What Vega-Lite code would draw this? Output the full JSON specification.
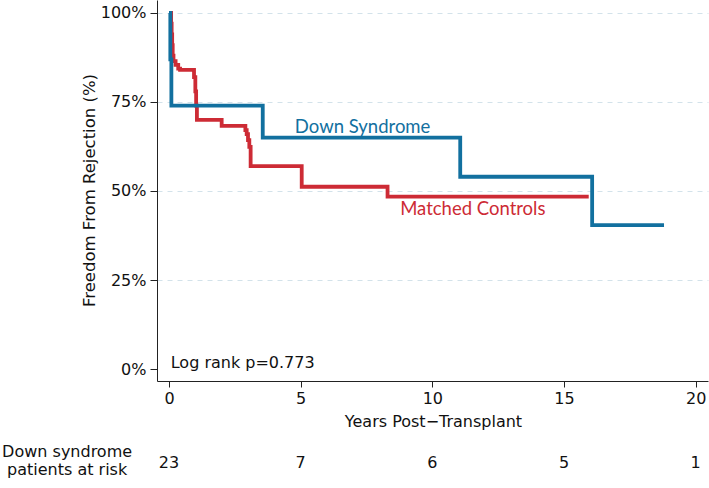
{
  "$schema": "https://vega.github.io/schema/vega-lite/v6.json",
  "width": 551,
  "height": 381,
  "autosize": "none",
  "padding": {"left": 157, "top": 0, "right": 1, "bottom": 107},
  "background": "white",
  "config": {
    "view": {"stroke": null},
    "font": "DejaVu Sans",
    "axis": {
      "domainColor": "#222222",
      "tickColor": "#222222",
      "labelColor": "#111111",
      "titleColor": "#111111",
      "labelFont": "DejaVu Sans",
      "titleFont": "DejaVu Sans",
      "labelFontSize": 16,
      "titleFontSize": 16,
      "titleFontWeight": "normal"
    }
  },
  "datasets": {
    "km": [
      {"group": "Matched Controls", "years": 0, "survival": 100},
      {"group": "Matched Controls", "years": 0.08, "survival": 97},
      {"group": "Matched Controls", "years": 0.1, "survival": 94},
      {"group": "Matched Controls", "years": 0.12, "survival": 91},
      {"group": "Matched Controls", "years": 0.14, "survival": 88},
      {"group": "Matched Controls", "years": 0.17, "survival": 86.5},
      {"group": "Matched Controls", "years": 0.25, "survival": 85.4},
      {"group": "Matched Controls", "years": 0.35, "survival": 84.4},
      {"group": "Matched Controls", "years": 0.42, "survival": 84},
      {"group": "Matched Controls", "years": 0.95, "survival": 82},
      {"group": "Matched Controls", "years": 1.0, "survival": 78},
      {"group": "Matched Controls", "years": 1.03, "survival": 74},
      {"group": "Matched Controls", "years": 1.06, "survival": 70},
      {"group": "Matched Controls", "years": 2.0, "survival": 68.3},
      {"group": "Matched Controls", "years": 2.9, "survival": 67.1},
      {"group": "Matched Controls", "years": 2.95, "survival": 66},
      {"group": "Matched Controls", "years": 3.0, "survival": 64.3},
      {"group": "Matched Controls", "years": 3.05, "survival": 62.4},
      {"group": "Matched Controls", "years": 3.1, "survival": 57},
      {"group": "Matched Controls", "years": 5.04, "survival": 51.2},
      {"group": "Matched Controls", "years": 8.3, "survival": 48.4},
      {"group": "Matched Controls", "years": 15.94, "survival": 48.4},
      {"group": "Down Syndrome", "years": 0, "survival": 100},
      {"group": "Down Syndrome", "years": 0.05, "survival": 87},
      {"group": "Down Syndrome", "years": 0.09, "survival": 74},
      {"group": "Down Syndrome", "years": 3.56, "survival": 65},
      {"group": "Down Syndrome", "years": 11.06, "survival": 54},
      {"group": "Down Syndrome", "years": 16.07, "survival": 40.4},
      {"group": "Down Syndrome", "years": 18.8, "survival": 40.4}
    ],
    "risk": [
      {"years": 0, "n": "23"},
      {"years": 5, "n": "7"},
      {"years": 10, "n": "6"},
      {"years": 15, "n": "5"},
      {"years": 20, "n": "1"}
    ]
  },
  "layer": [
    {
      "data": {"name": "km"},
      "transform": [{"filter": "datum.group === 'Matched Controls'"}],
      "mark": {"type": "line", "interpolate": "step-after", "strokeWidth": 3.8, "color": "#cd2b35", "strokeJoin": "miter", "strokeCap": "butt"},
      "encoding": {
        "x": {
          "field": "years", "type": "quantitative",
          "scale": {"domain": [-0.456, 20.47], "nice": false, "zero": false},
          "axis": {
            "values": [0, 5, 10, 15, 20],
            "tickSize": 6,
            "labelPadding": 3,
            "grid": false,
            "title": "Years Post−Transplant",
            "titleX": 276,
            "titleY": 45,
            "titleBaseline": "alphabetic",
            "titleAnchor": "start",
            "titleAlign": "center"
          }
        },
        "y": {
          "field": "survival", "type": "quantitative",
          "scale": {"domain": [-3.37, 103.65], "nice": false, "zero": false},
          "axis": {
            "values": [0, 25, 50, 75, 100],
            "labelExpr": "datum.value + '%'",
            "tickSize": 7,
            "labelPadding": 4,
            "grid": true,
            "gridDash": [5, 5],
            "gridColor": "#d3e2ea",
            "gridWidth": 1,
            "gridOpacity": {"condition": {"test": "datum.value === 0", "value": 0}, "value": 1},
            "title": "Freedom From Rejection (%)",
            "titleFontSize": 16.5,
            "titleX": -68,
            "titleY": 190,
            "titleAngle": -90,
            "titleBaseline": "middle",
            "titleAlign": "center",
            "titleAnchor": "start"
          }
        }
      }
    },
    {
      "data": {"name": "km"},
      "transform": [{"filter": "datum.group === 'Down Syndrome'"}],
      "mark": {"type": "line", "interpolate": "step-after", "strokeWidth": 3.8, "color": "#12709f", "strokeJoin": "miter", "strokeCap": "butt"},
      "encoding": {
        "x": {"field": "years", "type": "quantitative"},
        "y": {"field": "survival", "type": "quantitative"}
      }
    },
    {
      "data": {"values": [{"label": "Down Syndrome"}]},
      "mark": {"type": "text", "font": "Lato", "fontSize": 18.5, "color": "#12709f", "align": "left", "baseline": "alphabetic"},
      "encoding": {
        "x": {"datum": 4.78},
        "y": {"datum": 66.4},
        "text": {"field": "label"}
      }
    },
    {
      "data": {"values": [{"label": "Matched Controls"}]},
      "mark": {"type": "text", "font": "Lato", "fontSize": 18.5, "color": "#cd2b35", "align": "left", "baseline": "alphabetic"},
      "encoding": {
        "x": {"datum": 8.78},
        "y": {"datum": 43.3},
        "text": {"field": "label"}
      }
    },
    {
      "data": {"values": [{"label": "Log rank p=0.773"}]},
      "mark": {"type": "text", "fontSize": 16, "color": "#111111", "align": "left", "baseline": "middle"},
      "encoding": {
        "x": {"datum": 0.065},
        "y": {"datum": 1.7},
        "text": {"field": "label"}
      }
    },
    {
      "data": {"name": "risk"},
      "mark": {"type": "text", "fontSize": 16, "color": "#111111", "align": "center", "baseline": "middle"},
      "encoding": {
        "x": {"field": "years", "type": "quantitative"},
        "y": {"datum": -26.4},
        "text": {"field": "n"}
      }
    },
    {
      "data": {"values": [{"label": "Down syndrome\npatients at risk"}]},
      "mark": {"type": "text", "fontSize": 16, "color": "#111111", "align": "center", "baseline": "middle", "lineBreak": "\n", "lineHeight": 18},
      "encoding": {
        "x": {"datum": -3.87},
        "y": {"datum": -23.3},
        "text": {"field": "label"}
      }
    }
  ]
}
